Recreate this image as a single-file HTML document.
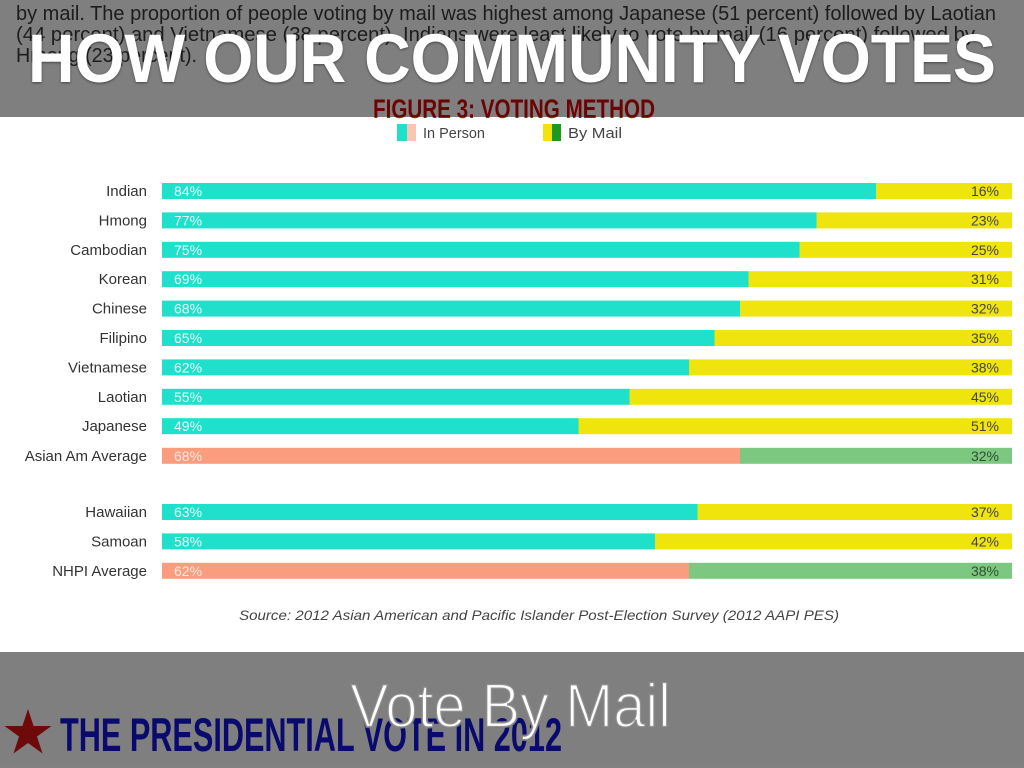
<!DOCTYPE html>
<html><head><meta charset="utf-8"><style>
html,body{margin:0;padding:0;background:#fff;}
svg{display:block;}
text{font-family:"Liberation Sans",sans-serif;}
</style></head><body>
<svg width="1024" height="768" viewBox="0 0 1024 768" xmlns="http://www.w3.org/2000/svg">
<rect x="0" y="0" width="1024" height="768" fill="#fff"/>
<!-- text under top overlay -->
<g fill="#3a3a3a" font-size="20">
<text x="16" y="20" textLength="980" lengthAdjust="spacingAndGlyphs">by mail. The proportion of people voting by mail was highest among Japanese (51 percent) followed by Laotian</text>
<text x="16" y="41" textLength="959" lengthAdjust="spacingAndGlyphs">(44 percent) and Vietnamese (38 percent). Indians were least likely to vote by mail (16 percent) followed by</text>
<text x="16" y="62" textLength="181" lengthAdjust="spacingAndGlyphs">Hmong (23 percent).</text>
</g>
<text x="373" y="118" font-family="'Liberation Sans Narrow','Liberation Sans',sans-serif" font-weight="bold" font-size="27" fill="#d40808" textLength="282" lengthAdjust="spacingAndGlyphs">FIGURE 3: VOTING METHOD</text>
<!-- top overlay -->
<rect x="0" y="0" width="1024" height="117" fill="#000" fill-opacity="0.5"/>
<text x="28" y="82" font-family="'Liberation Sans',sans-serif" font-weight="bold" font-size="69" fill="#fff" textLength="968" lengthAdjust="spacingAndGlyphs" style="text-shadow:0 1px 3px rgba(0,0,0,.45)">HOW OUR COMMUNITY VOTES</text>

<!-- legend -->
<rect x="397" y="124" width="10" height="17" fill="#1ee0cb"/>
<rect x="407" y="124" width="9" height="17" fill="#f8c6b3"/>
<text x="423" y="138" font-size="15" fill="#444" textLength="62" lengthAdjust="spacingAndGlyphs">In Person</text>
<rect x="543" y="124" width="9" height="17" fill="#efe40c"/>
<rect x="552" y="124" width="9" height="17" fill="#1d9a1d"/>
<text x="568" y="138" font-size="15" fill="#444" textLength="54" lengthAdjust="spacingAndGlyphs">By Mail</text>

<!-- bars -->
<g font-size="14">
<g>
<rect x="162" y="183" width="714" height="16" fill="#1ee0cb"/><rect x="876" y="183" width="136" height="16" fill="#efe40c"/>
<text x="147" y="196" text-anchor="end" font-size="15" fill="#333">Indian</text>
<text x="174" y="196" fill="#e8fffb">84%</text><text x="999" y="196" text-anchor="end" fill="#444">16%</text>
</g>
<g>
<rect x="162" y="212.4" width="654.5" height="16" fill="#1ee0cb"/><rect x="816.5" y="212.4" width="195.5" height="16" fill="#efe40c"/>
<text x="147" y="225.4" text-anchor="end" font-size="15" fill="#333">Hmong</text>
<text x="174" y="225.4" fill="#e8fffb">77%</text><text x="999" y="225.4" text-anchor="end" fill="#444">23%</text>
</g>
<g>
<rect x="162" y="241.8" width="637.5" height="16" fill="#1ee0cb"/><rect x="799.5" y="241.8" width="212.5" height="16" fill="#efe40c"/>
<text x="147" y="254.8" text-anchor="end" font-size="15" fill="#333">Cambodian</text>
<text x="174" y="254.8" fill="#e8fffb">75%</text><text x="999" y="254.8" text-anchor="end" fill="#444">25%</text>
</g>
<g>
<rect x="162" y="271.2" width="586.5" height="16" fill="#1ee0cb"/><rect x="748.5" y="271.2" width="263.5" height="16" fill="#efe40c"/>
<text x="147" y="284.2" text-anchor="end" font-size="15" fill="#333">Korean</text>
<text x="174" y="284.2" fill="#e8fffb">69%</text><text x="999" y="284.2" text-anchor="end" fill="#444">31%</text>
</g>
<g>
<rect x="162" y="300.6" width="578" height="16" fill="#1ee0cb"/><rect x="740" y="300.6" width="272" height="16" fill="#efe40c"/>
<text x="147" y="313.6" text-anchor="end" font-size="15" fill="#333">Chinese</text>
<text x="174" y="313.6" fill="#e8fffb">68%</text><text x="999" y="313.6" text-anchor="end" fill="#444">32%</text>
</g>
<g>
<rect x="162" y="330" width="552.5" height="16" fill="#1ee0cb"/><rect x="714.5" y="330" width="297.5" height="16" fill="#efe40c"/>
<text x="147" y="343" text-anchor="end" font-size="15" fill="#333">Filipino</text>
<text x="174" y="343" fill="#e8fffb">65%</text><text x="999" y="343" text-anchor="end" fill="#444">35%</text>
</g>
<g>
<rect x="162" y="359.4" width="527" height="16" fill="#1ee0cb"/><rect x="689" y="359.4" width="323" height="16" fill="#efe40c"/>
<text x="147" y="372.4" text-anchor="end" font-size="15" fill="#333">Vietnamese</text>
<text x="174" y="372.4" fill="#e8fffb">62%</text><text x="999" y="372.4" text-anchor="end" fill="#444">38%</text>
</g>
<g>
<rect x="162" y="388.8" width="467.5" height="16" fill="#1ee0cb"/><rect x="629.5" y="388.8" width="382.5" height="16" fill="#efe40c"/>
<text x="147" y="401.8" text-anchor="end" font-size="15" fill="#333">Laotian</text>
<text x="174" y="401.8" fill="#e8fffb">55%</text><text x="999" y="401.8" text-anchor="end" fill="#444">45%</text>
</g>
<g>
<rect x="162" y="418.2" width="416.5" height="16" fill="#1ee0cb"/><rect x="578.5" y="418.2" width="433.5" height="16" fill="#efe40c"/>
<text x="147" y="431.2" text-anchor="end" font-size="15" fill="#333">Japanese</text>
<text x="174" y="431.2" fill="#e8fffb">49%</text><text x="999" y="431.2" text-anchor="end" fill="#444">51%</text>
</g>
<g>
<rect x="162" y="447.8" width="578" height="16" fill="#fa9c7e"/><rect x="740" y="447.8" width="272" height="16" fill="#7dc880"/>
<text x="147" y="460.8" text-anchor="end" font-size="15" fill="#333">Asian Am Average</text>
<text x="174" y="460.8" fill="#ffe9e0">68%</text><text x="999" y="460.8" text-anchor="end" fill="#2f4f30">32%</text>
</g>
<g>
<rect x="162" y="504" width="535.5" height="16" fill="#1ee0cb"/><rect x="697.5" y="504" width="314.5" height="16" fill="#efe40c"/>
<text x="147" y="517" text-anchor="end" font-size="15" fill="#333">Hawaiian</text>
<text x="174" y="517" fill="#e8fffb">63%</text><text x="999" y="517" text-anchor="end" fill="#444">37%</text>
</g>
<g>
<rect x="162" y="533.4" width="493" height="16" fill="#1ee0cb"/><rect x="655" y="533.4" width="357" height="16" fill="#efe40c"/>
<text x="147" y="546.4" text-anchor="end" font-size="15" fill="#333">Samoan</text>
<text x="174" y="546.4" fill="#e8fffb">58%</text><text x="999" y="546.4" text-anchor="end" fill="#444">42%</text>
</g>
<g>
<rect x="162" y="562.8" width="527" height="16" fill="#fa9c7e"/><rect x="689" y="562.8" width="323" height="16" fill="#7dc880"/>
<text x="147" y="575.8" text-anchor="end" font-size="15" fill="#333">NHPI Average</text>
<text x="174" y="575.8" fill="#ffe9e0">62%</text><text x="999" y="575.8" text-anchor="end" fill="#2f4f30">38%</text>
</g>
</g>

<text x="239" y="620" font-size="14" font-style="italic" fill="#444" textLength="600" lengthAdjust="spacingAndGlyphs">Source: 2012 Asian American and Pacific Islander Post-Election Survey (2012 AAPI PES)</text>

<!-- bottom: content under overlay -->
<polygon points="28,709 33.6,726 51.5,726 37,736.5 42.5,753.5 28,743 13.5,753.5 19,736.5 4.5,726 22.4,726" fill="#dc1414"/>
<text x="60" y="751" font-family="'Liberation Sans Narrow','Liberation Sans',sans-serif" font-weight="bold" font-size="47" fill="#1414dc" textLength="502" lengthAdjust="spacingAndGlyphs">THE PRESIDENTIAL VOTE IN 2012</text>
<rect x="0" y="652" width="1024" height="116" fill="#000" fill-opacity="0.5"/>
<text x="350" y="727" font-size="62" fill="#fff" stroke="#808080" stroke-width="2.2" stroke-opacity="0.85" textLength="321" lengthAdjust="spacingAndGlyphs">Vote By Mail</text>
</svg>
</body></html>
